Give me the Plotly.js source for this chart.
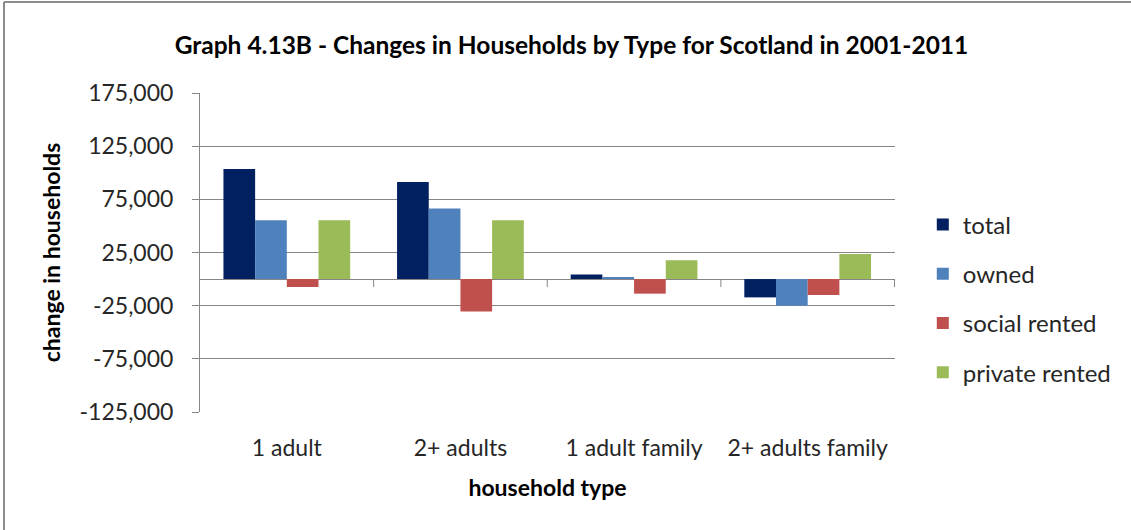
<!DOCTYPE html>
<html>
<head>
<meta charset="utf-8">
<script src="https://cdn.plot.ly/plotly-3.0.1.min.js"></script>
<style>html,body{margin:0;padding:0;background:#fff;}#chart{width:1131px;height:530px;}</style>
</head>
<body>
<div id="chart"></div>
<script>
var categories = ["1 adult", "2+ adults", "1 adult family", "2+ adults family"];
var seriesNames = ["total", "owned", "social rented", "private rented"];
var total = [103500, 91300, 4300, -17200];
var owned = [55400, 66400, 1900, -25000];
var socialRented = [-7500, -30500, -13700, -15000];
var privateRented = [55400, 55400, 17800, 23600];
var yTickVals = [175000, 125000, 75000, 25000, -25000, -75000, -125000];
var yTickText = ["175,000", "125,000", "75,000", "25,000", "-25,000", "-75,000", "-125,000"];

var colors = ["#002060", "#4F81BD", "#C0504D", "#9BBB59"];
var values = [total, owned, socialRented, privateRented];
var FONT = "Lato, Carlito, Calibri, sans-serif";

var traces = values.map(function (v, i) {
  return {
    type: "bar",
    name: seriesNames[i],
    x: categories,
    y: v,
    marker: { color: colors[i], line: { width: 0 } },
    legendgroup: "g" + i,
    hoverinfo: "x+y+name"
  };
});

var shapes = [];
for (var i = 0; i < categories.length; i++) {
  shapes.push({
    type: "line", xref: "x", yref: "y",
    ysizemode: "pixel", yanchor: 0,
    x0: i + 0.5, x1: i + 0.5, y0: 0, y1: -8,
    line: { color: "#868686", width: 1 }
  });
}
// chart frame
shapes.push({ type: "line", xref: "paper", yref: "paper", x0: -0.282, x1: -0.282, y0: -0.4, y1: 1.285, line: { color: "#8c8c8c", width: 2 } });
shapes.push({ type: "line", xref: "paper", yref: "paper", x0: -0.282, x1: 1.4, y0: 1.285, y1: 1.285, line: { color: "#8c8c8c", width: 2 } });

var layout = {
  width: 1131, height: 530,
  margin: { l: 200, r: 236, t: 93, b: 118 },
  paper_bgcolor: "#fff", plot_bgcolor: "#fff",
  font: { family: FONT, size: 22, color: "#262626" },
  title: {
    text: "<b>Graph 4.13B - Changes in Households by Type for Scotland in 2001-2011</b>",
    font: { family: FONT, size: 24.5, color: "#000" },
    x: 0.5053, xref: "container", xanchor: "center",
    y: 0.915, yref: "container", yanchor: "middle"
  },
  barmode: "group", bargap: 0.27, bargroupgap: 0,
  showlegend: true,
  legend: {
    x: 1.04, xanchor: "left", y: 0.356, yanchor: "middle",
    traceorder: "grouped", tracegroupgap: 15,
    font: { family: FONT, size: 24, color: "#262626" },
    itemwidth: 30
  },
  xaxis: {
    type: "category",
    showgrid: false, zeroline: false, showline: false,
    ticks: "outside", ticklen: 15, tickcolor: "rgba(0,0,0,0)",
    tickfont: { family: FONT, size: 23, color: "#262626" },
    title: { text: "<b>household type</b>", font: { family: FONT, size: 23, color: "#000" }, standoff: 20 },
    fixedrange: true
  },
  yaxis: {
    range: [-125000, 175000],
    tickvals: yTickVals, ticktext: yTickText,
    showgrid: true, gridcolor: "#868686", gridwidth: 1,
    zeroline: true, zerolinecolor: "#868686", zerolinewidth: 1,
    showline: true, linecolor: "#868686", linewidth: 1,
    ticks: "outside", ticklen: 7, tickcolor: "#868686",
    ticklabelstandoff: 14,
    tickfont: { family: FONT, size: 23, color: "#262626" },
    title: { text: "<b>change in households</b>", font: { family: FONT, size: 23, color: "#000" }, standoff: 12 },
    fixedrange: true
  },
  shapes: shapes
};

Plotly.newPlot("chart", traces, layout, { displayModeBar: false, staticPlot: true });
</script>
</body>
</html>
